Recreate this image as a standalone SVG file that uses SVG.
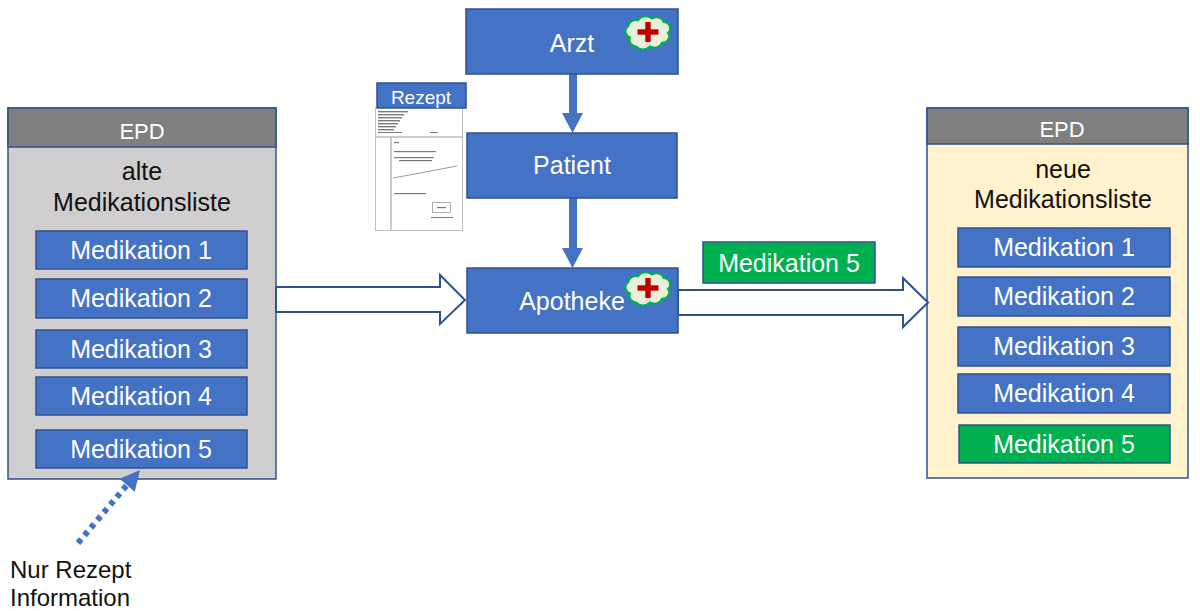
<svg xmlns="http://www.w3.org/2000/svg" width="1200" height="611" viewBox="0 0 1200 611">
  <style>
    text { font-family: "Liberation Sans", Arial, sans-serif; }
    .blue { fill: #4472C4; stroke: #2F528F; stroke-width: 1.5; }
    .green { fill: #00B050; stroke: #2F528F; stroke-width: 1.5; }
    .head { fill: #7F7F7F; stroke: #2F528F; stroke-width: 1.5; }
    .wt { fill: #FFFFFF; text-anchor: middle; }
    .bt { fill: #111111; text-anchor: middle; }
    .med { font-size: 25px; }
    .hollow { fill: #FFFFFF; stroke: #2F528F; stroke-width: 2; stroke-linejoin: miter; }
    .flow { fill: #4472C4; }
    .doc { fill: #FFFFFF; stroke: #BFBFBF; stroke-width: 1; }
    .docline { stroke: #9A9A9A; stroke-width: 1; fill: none; }
    .scribble { fill: #7A7A7A; }
  </style>
  <defs>
    <!-- green cloud with red cross, used on Arzt and Apotheke -->
    <symbol id="cloudCross" viewBox="-24 -17 48 34" overflow="visible">
      <path d="M -18,6 a7,7 0 0 1 -2,-12 a8,8 0 0 1 10,-7 a9,9 0 0 1 14,-2 a8,8 0 0 1 12,4 a7,7 0 0 1 4,12 a7,7 0 0 1 -6,11 a8,8 0 0 1 -12,4 a9,9 0 0 1 -14,0 a7,7 0 0 1 -6,-10 z"
            transform="scale(1,0.9)" fill="#E8F0DC" stroke="#00B050" stroke-width="2.2"/>
      <rect x="-2.7" y="-10" width="5.4" height="20" fill="#C00000"/>
      <rect x="-10.5" y="-2.7" width="21" height="5.4" fill="#C00000"/>
    </symbol>
  </defs>

  <!-- old medication list -->
  <g id="epd-alt">
    <rect x="8" y="108" width="268" height="371" fill="#D0CECE" stroke="#2F528F" stroke-width="1.5"/>
    <rect class="head" x="8" y="108" width="268" height="39"/>
    <text class="wt" x="142" y="139" font-size="22">EPD</text>
    <text class="bt" x="142" y="180" font-size="25">alte</text>
    <text class="bt" x="142" y="211" font-size="25">Medikationsliste</text>
    <rect class="blue" x="36" y="231" width="211" height="38"/>
    <text class="wt med" x="141" y="259">Medikation 1</text>
    <rect class="blue" x="36" y="279" width="211" height="39"/>
    <text class="wt med" x="141" y="307">Medikation 2</text>
    <rect class="blue" x="36" y="330" width="211" height="38"/>
    <text class="wt med" x="141" y="358">Medikation 3</text>
    <rect class="blue" x="36" y="377" width="211" height="38"/>
    <text class="wt med" x="141" y="405">Medikation 4</text>
    <rect class="blue" x="36" y="430" width="211" height="38"/>
    <text class="wt med" x="141" y="458">Medikation 5</text>
  </g>

  <!-- new medication list -->
  <g id="epd-neu">
    <rect x="927" y="108" width="261" height="370" fill="#FFF2CC" stroke="#2F528F" stroke-width="1.5"/>
    <rect class="head" x="927" y="108" width="261" height="36"/>
    <text class="wt" x="1062" y="137" font-size="22">EPD</text>
    <text class="bt" x="1063" y="178" font-size="25">neue</text>
    <text class="bt" x="1063" y="208" font-size="25">Medikationsliste</text>
    <rect class="blue" x="958" y="228" width="212" height="39"/>
    <text class="wt med" x="1064" y="256">Medikation 1</text>
    <rect class="blue" x="958" y="277" width="212" height="39"/>
    <text class="wt med" x="1064" y="305">Medikation 2</text>
    <rect class="blue" x="958" y="327" width="212" height="39"/>
    <text class="wt med" x="1064" y="355">Medikation 3</text>
    <rect class="blue" x="958" y="374" width="212" height="39"/>
    <text class="wt med" x="1064" y="402">Medikation 4</text>
    <rect class="green" x="959" y="425" width="211" height="38"/>
    <text class="wt med" x="1064" y="453">Medikation 5</text>
  </g>

  <!-- connectors -->
  <g id="connectors">
    <!-- Arzt -> Patient -->
    <rect class="flow" x="569" y="74" width="8" height="40"/>
    <polygon class="flow" points="562,113 583,113 572.5,133"/>
    <!-- Patient -> Apotheke -->
    <rect class="flow" x="569" y="198" width="8" height="51"/>
    <polygon class="flow" points="562,248 583,248 572.5,268"/>
    <!-- old list -> Apotheke -->
    <polygon class="hollow" points="276,287 440,287 440,275 465,300 440,324 440,312 276,312"/>
    <!-- Apotheke -> new list -->
    <polygon class="hollow" points="678,290 903,290 903,278 928,302.5 903,327 903,315 678,315"/>
    <!-- prescription info only -->
    <line x1="78" y1="543" x2="127" y2="485" stroke="#4472C4" stroke-width="6" stroke-dasharray="5 5"/>
    <polygon class="flow" points="140,470 119.5,478.7 134.7,491.7"/>
  </g>

  <!-- actors -->
  <g id="arzt">
    <rect class="blue" x="466" y="9" width="212" height="65"/>
    <text class="wt" x="572" y="52" font-size="25">Arzt</text>
    <use href="#cloudCross" x="624" y="15" width="48" height="34"/>
  </g>

  <g id="patient">
    <rect class="blue" x="467" y="133" width="210" height="65"/>
    <text class="wt" x="572" y="174" font-size="25">Patient</text>
  </g>

  <g id="apotheke">
    <rect class="blue" x="467" y="268" width="211" height="65"/>
    <text class="wt" x="572" y="310" font-size="25">Apotheke</text>
    <use href="#cloudCross" x="624" y="271" width="48" height="34"/>
  </g>

  <!-- prescription sheet -->
  <g id="rezept">
    <rect class="doc" x="375.5" y="107.5" width="87" height="123"/>
    <line class="docline" x1="376" y1="137" x2="462" y2="137"/>
    <line class="docline" x1="391" y1="137" x2="391" y2="230"/>
    <g class="scribble">
      <rect x="378" y="111" width="30" height="1.4"/>
      <rect x="378" y="114" width="26" height="1.4"/>
      <rect x="378" y="117" width="24" height="1.4"/>
      <rect x="378" y="120" width="22" height="1.4"/>
      <rect x="378" y="123" width="20" height="1.4"/>
      <rect x="378" y="126" width="18" height="1.4"/>
      <rect x="378" y="129" width="16" height="1.4"/>
      <rect x="378" y="132" width="24" height="1"/>
      <rect x="430" y="132" width="8" height="1"/>
      <rect x="394" y="142" width="5" height="1.2"/>
      <rect x="394" y="151" width="42" height="1.2"/>
      <rect x="394" y="157" width="40" height="1.2"/>
      <rect x="399" y="160" width="33" height="1.2"/>
      <rect x="394" y="193" width="32" height="1.2"/>
      <rect x="437" y="207" width="9" height="1.2"/>
      <rect x="431" y="217" width="22" height="1"/>
    </g>
    <line class="docline" x1="393" y1="178" x2="457" y2="166"/>
    <rect x="432.5" y="202.5" width="18" height="10" fill="none" stroke="#9A9A9A" stroke-width="0.8"/>
    <rect class="blue" x="377" y="83" width="89" height="25"/>
    <text class="wt" x="421" y="104" font-size="19">Rezept</text>
  </g>

  <!-- medication added by the pharmacy -->
  <g id="medikation-neu">
    <rect class="green" x="703" y="242" width="172" height="41"/>
    <text class="wt med" x="789" y="272">Medikation 5</text>
  </g>

  <g id="hinweis">
    <text x="10" y="578" font-size="24" fill="#111111">Nur Rezept</text>
    <text x="10" y="606" font-size="24" fill="#111111">Information</text>
  </g>
</svg>
